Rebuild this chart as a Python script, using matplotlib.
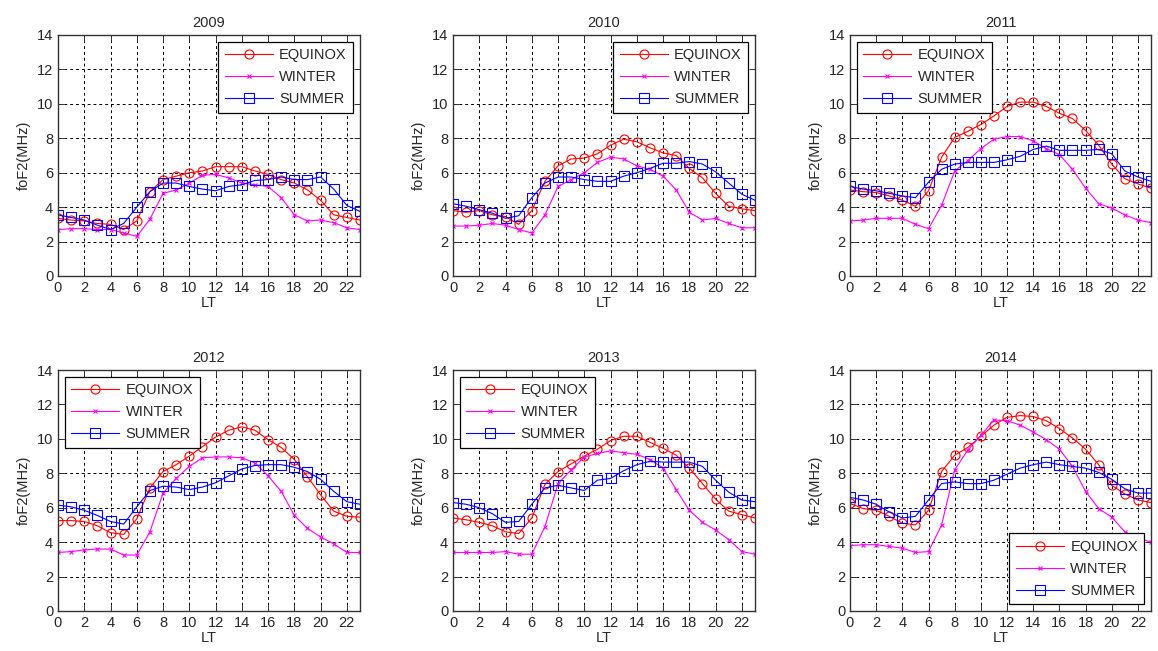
import matplotlib
matplotlib.use("Agg")
import matplotlib.pyplot as plt

plt.rcParams['font.family'] = ['Liberation Sans', 'DejaVu Sans']

lt = list(range(24))
years = ["2009", "2010", "2011", "2012", "2013", "2014"]
series_names = ["EQUINOX", "WINTER", "SUMMER"]

equinox_2009 = [3.35, 3.25, 3.2, 3.05, 3.0, 2.7, 3.2, 4.9, 5.6, 5.8, 6.0, 6.1, 6.35, 6.35, 6.35, 6.1, 5.9, 5.6, 5.4, 5.0, 4.4, 3.55, 3.4, 3.25]
winter_2009 = [2.7, 2.75, 2.75, 2.7, 2.7, 2.5, 2.3, 3.3, 4.8, 5.0, 5.4, 5.85, 5.9, 5.7, 5.4, 5.3, 5.2, 4.55, 3.55, 3.2, 3.25, 3.1, 2.8, 2.7]
summer_2009 = [3.55, 3.4, 3.25, 2.95, 2.7, 3.05, 4.0, 4.9, 5.4, 5.4, 5.2, 5.05, 4.95, 5.2, 5.3, 5.55, 5.6, 5.75, 5.6, 5.6, 5.75, 5.05, 4.1, 3.75]

equinox_2010 = [3.8, 3.7, 3.8, 3.55, 3.45, 3.0, 3.8, 5.5, 6.4, 6.8, 6.85, 7.1, 7.6, 7.95, 7.8, 7.45, 7.15, 7.0, 6.25, 5.7, 4.8, 4.05, 3.9, 3.8]
winter_2010 = [2.9, 2.9, 2.95, 3.05, 2.95, 2.7, 2.5, 3.55, 5.2, 5.6, 6.0, 6.6, 6.9, 6.8, 6.4, 6.2, 5.8, 5.0, 3.7, 3.25, 3.35, 3.05, 2.8, 2.8]
summer_2010 = [4.2, 4.05, 3.85, 3.65, 3.35, 3.5, 4.55, 5.4, 5.75, 5.75, 5.6, 5.5, 5.5, 5.8, 6.0, 6.25, 6.55, 6.55, 6.65, 6.5, 6.05, 5.4, 4.75, 4.4]

equinox_2011 = [5.0, 4.9, 4.85, 4.65, 4.4, 4.05, 4.95, 6.9, 8.05, 8.4, 8.8, 9.3, 9.85, 10.1, 10.1, 9.85, 9.45, 9.15, 8.45, 7.6, 6.5, 5.65, 5.35, 5.1]
winter_2011 = [3.2, 3.25, 3.35, 3.35, 3.35, 3.0, 2.75, 4.1, 6.1, 6.7, 7.4, 7.95, 8.1, 8.1, 7.85, 7.4, 7.05, 6.2, 5.1, 4.2, 3.95, 3.55, 3.25, 3.1]
summer_2011 = [5.2, 5.05, 4.95, 4.8, 4.65, 4.55, 5.45, 6.2, 6.5, 6.6, 6.6, 6.6, 6.75, 6.95, 7.35, 7.55, 7.3, 7.3, 7.3, 7.35, 7.1, 6.1, 5.75, 5.5]

equinox_2012 = [5.25, 5.25, 5.2, 4.95, 4.55, 4.45, 5.35, 7.15, 8.1, 8.5, 9.0, 9.55, 10.1, 10.5, 10.7, 10.5, 9.95, 9.5, 8.8, 7.8, 6.75, 5.8, 5.5, 5.45]
winter_2012 = [3.4, 3.45, 3.55, 3.6, 3.6, 3.25, 3.25, 4.6, 6.85, 7.7, 8.4, 8.9, 8.95, 8.95, 8.9, 8.6, 7.85, 6.95, 5.55, 4.8, 4.3, 3.9, 3.4, 3.4]
summer_2012 = [6.15, 6.05, 5.85, 5.55, 5.2, 5.05, 6.05, 7.0, 7.25, 7.2, 7.05, 7.2, 7.45, 7.85, 8.25, 8.45, 8.5, 8.5, 8.35, 8.1, 7.65, 6.95, 6.35, 6.2]

equinox_2013 = [5.4, 5.3, 5.15, 4.95, 4.6, 4.5, 5.4, 7.35, 8.1, 8.55, 9.0, 9.4, 9.9, 10.15, 10.15, 9.8, 9.45, 9.05, 8.3, 7.4, 6.5, 5.8, 5.6, 5.4]
winter_2013 = [3.4, 3.4, 3.4, 3.4, 3.45, 3.3, 3.3, 4.9, 7.4, 8.2, 8.95, 9.15, 9.3, 9.2, 9.1, 8.8, 8.3, 7.05, 5.85, 5.15, 4.7, 4.15, 3.45, 3.3]
summer_2013 = [6.3, 6.2, 6.0, 5.65, 5.15, 5.2, 6.2, 7.15, 7.3, 7.15, 7.0, 7.6, 7.7, 8.15, 8.5, 8.7, 8.65, 8.65, 8.65, 8.4, 7.6, 6.9, 6.45, 6.35]

equinox_2014 = [6.25, 5.95, 5.85, 5.5, 5.1, 5.0, 5.85, 8.1, 9.05, 9.5, 10.15, 10.8, 11.25, 11.35, 11.3, 11.05, 10.6, 10.05, 9.4, 8.5, 7.3, 6.8, 6.45, 6.3]
winter_2014 = [3.8, 3.85, 3.85, 3.75, 3.65, 3.4, 3.45, 5.0, 8.2, 9.35, 10.2, 11.1, 11.05, 10.8, 10.4, 9.95, 9.4, 8.4, 6.95, 5.95, 5.45, 4.6, 4.25, 4.0]
summer_2014 = [6.6, 6.45, 6.2, 5.75, 5.4, 5.5, 6.45, 7.4, 7.5, 7.4, 7.4, 7.6, 7.95, 8.3, 8.5, 8.65, 8.5, 8.4, 8.3, 8.05, 7.65, 7.1, 6.85, 6.85]

data = {
    "2009": (equinox_2009, winter_2009, summer_2009),
    "2010": (equinox_2010, winter_2010, summer_2010),
    "2011": (equinox_2011, winter_2011, summer_2011),
    "2012": (equinox_2012, winter_2012, summer_2012),
    "2013": (equinox_2013, winter_2013, summer_2013),
    "2014": (equinox_2014, winter_2014, summer_2014),
}
legend_locs = {"2009": "upper right", "2010": "upper right", "2011": "upper left",
               "2012": "upper left", "2013": "upper left", "2014": "lower right"}

fig = plt.figure(figsize=(11.58, 6.51), dpi=100)

W, H = 1158.0, 651.0
lefts = [58, 453, 850]
widths = [302, 302, 301]
tops = [35, 370]
height = 241
text_color = "#262626"
spine_color = "#333333"

styles = [
    dict(color="red", marker="o", markersize=6.5, markerfacecolor="none", linewidth=0.8, markeredgewidth=0.8),
    dict(color="magenta", marker="x", markersize=3.5, linewidth=0.8, markeredgewidth=0.8),
    dict(color="blue", marker="s", markersize=7.5, markerfacecolor="none", linewidth=0.8, markeredgewidth=0.8),
]

for i, yr in enumerate(years):
    r, c = divmod(i, 3)
    ax = fig.add_axes([lefts[c] / W, 1 - (tops[r] + height) / H, widths[c] / W, height / H])
    for name, vals, st in zip(series_names, data[yr], styles):
        ax.plot(lt, vals, label=name, **st)
    ax.set_xlim(0, 23)
    ax.set_ylim(0, 14)
    ax.set_xticks(range(0, 23, 2))
    ax.set_yticks(range(0, 15, 2))
    ax.grid(True, color="black", linestyle=(0, (3, 3)), linewidth=0.7)
    ax.tick_params(direction="in", top=True, right=True, labelsize=10.5, length=4, width=0.7,
                   colors=spine_color, labelcolor=text_color)
    for sp in ax.spines.values():
        sp.set_linewidth(1.0)
        sp.set_color(spine_color)
    ax.set_title(yr, fontsize=10.5, pad=6, color=text_color)
    ax.set_xlabel("LT", fontsize=10.5, labelpad=1, color=text_color)
    ax.set_ylabel("foF2(MHz)", fontsize=10.5, labelpad=4, color=text_color)
    leg = ax.legend(loc=legend_locs[yr], fontsize=10.5, frameon=True, fancybox=False,
                    edgecolor="black", framealpha=1, handlelength=3.3, handletextpad=0.45,
                    borderpad=0.45, labelspacing=0.55, borderaxespad=0.45)
    leg.get_frame().set_linewidth(0.9)
    for t in leg.get_texts():
        t.set_color(text_color)

fig.savefig("out.png", dpi=100)
